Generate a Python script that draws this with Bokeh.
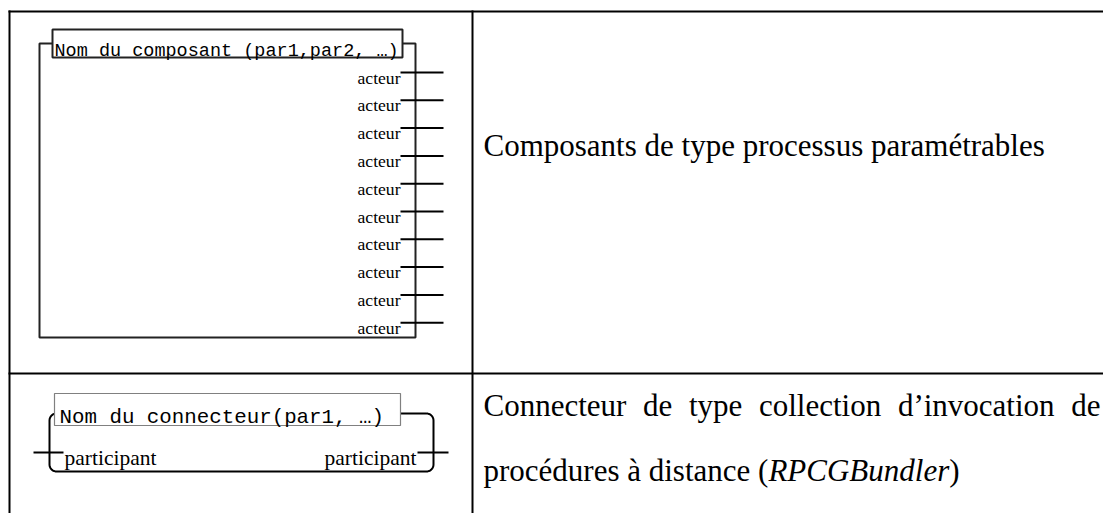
import numpy as np
from bokeh.plotting import figure
from bokeh.models import Range1d
from bokeh.core.properties import value
from bokeh.embed import file_html
from bokeh.resources import INLINE

# ---------------- content ----------------
component_title = "Nom du composant (par1,par2, …)"
actor_labels = ["acteur"] * 10
connector_title = "Nom du connecteur(par1, …)"
participant_left = "participant"
participant_right = "participant"
row1_text = "Composants de type processus paramétrables"
row2_line1_words = ["Connecteur", "de", "type", "collection", "d’invocation", "de"]
row2_line2_parts = ["procédures à distance (", "RPCGBundler", ")"]
row2_line2_styles = ["normal", "italic", "normal"]

# Times / Liberation Serif advance widths (per 1000 em)
REG = {" ": 250, "’": 333, "(": 333, ")": 333, "a": 444, "à": 444, "b": 500, "c": 444,
       "d": 500, "e": 444, "é": 444, "i": 278, "l": 278, "m": 778, "n": 500, "o": 500,
       "p": 500, "r": 333, "s": 389, "t": 278, "u": 500, "v": 500, "y": 500, "C": 667}
ITA = {"R": 611, "P": 611, "C": 667, "G": 722, "B": 611, "u": 500, "n": 500, "d": 500,
       "l": 278, "e": 444, "r": 389}


def text_width(s, size, italic=False):
    table = ITA if italic else REG
    return sum(table.get(ch, 500) for ch in s) * size / 1000.0


W, H = 1103, 513
SERIF = value("Liberation Serif")
MONO = value("Liberation Mono")

p = figure(width=W, height=H, x_range=Range1d(0, W), y_range=Range1d(H, 0),
           output_backend="svg", toolbar_location=None, min_border=0,
           x_axis_type=None, y_axis_type=None)
p.grid.visible = False
p.outline_line_color = None
p.background_fill_color = "white"
p.border_fill_color = "white"

# ---------------- table lines ----------------
col_x = 472
row_y = 373
p.segment(x0=[9, 8, col_x, 8], y0=[10, 11, 10, row_y],
          x1=[9, 1110, col_x, 1110], y1=[520, 11, 520, row_y],
          line_color="black", line_width=2)

# ---------------- component symbol ----------------
bx0, bx1, by1 = 39, 415, 337
tx0, tx1, ty0, ty1 = 52, 402, 29, 57
bracket_y = 43
p.line(x=[tx0, bx0, bx0, bx1, bx1, tx1], y=[bracket_y, bracket_y, by1, by1, bracket_y, bracket_y],
       line_color="#222222", line_width=2)
p.quad(left=[tx0], right=[tx1], top=[ty0], bottom=[ty1], fill_color="white",
       line_color="#222222", line_width=2)
p.text(x=[tx0 + 2], y=[51], text=[component_title], text_font=MONO, text_font_size="18.5px",
       text_baseline="alphabetic", text_align="left", text_color="black")

n_act = len(actor_labels)
act_y = 72 + 27.8 * np.arange(n_act)
p.segment(x0=np.full(n_act, 400), y0=act_y, x1=np.full(n_act, 443), y1=act_y,
          line_color="black", line_width=2)
p.text(x=np.full(n_act, 400), y=act_y + 5, text=actor_labels, text_font=SERIF,
       text_font_size="17.6px", text_baseline="alphabetic", text_align="right",
       text_color="black")

# ---------------- connector symbol ----------------
def rounded_path(x0, x1, y0, y1, r, n=10):
    xs, ys = [], []
    corners = [(x1 - r, y0 + r, -np.pi / 2, 0), (x1 - r, y1 - r, 0, np.pi / 2),
               (x0 + r, y1 - r, np.pi / 2, np.pi), (x0 + r, y0 + r, np.pi, 1.5 * np.pi)]
    for cx, cy, a0, a1 in corners:
        t = np.linspace(a0, a1, n)
        xs.extend(cx + r * np.cos(t))
        ys.extend(cy + r * np.sin(t))
    xs.append(xs[0])
    ys.append(ys[0])
    return xs, ys

rx, ry = rounded_path(49, 433, 413, 471, 7)
p.line(x=rx, y=ry, line_color="black", line_width=2)
p.quad(left=[54], right=[400], top=[393], bottom=[425], fill_color="white",
       line_color="#808080", line_width=1.2)
p.text(x=[59], y=[417], text=[connector_title], text_font=MONO, text_font_size="20.8px",
       text_baseline="alphabetic", text_align="left", text_color="black")
p.segment(x0=[33, 417], y0=[452, 452], x1=[63, 448], y1=[452, 452],
          line_color="black", line_width=2)
p.text(x=[64], y=[457], text=[participant_left], text_font=SERIF, text_font_size="21.5px",
       text_baseline="alphabetic", text_align="left", text_color="black")
p.text(x=[416], y=[457], text=[participant_right], text_font=SERIF, text_font_size="21.5px",
       text_baseline="alphabetic", text_align="right", text_color="black")

# ---------------- right column text ----------------
F = 31
left_x = 483
right_x = 1100
p.text(x=[left_x], y=[145], text=[row1_text], text_font=SERIF, text_font_size=f"{F}px",
       text_baseline="alphabetic", text_align="left", text_color="black")

# justified line
widths = [text_width(w, F) for w in row2_line1_words]
gap = (right_x - left_x - sum(widths)) / (len(widths) - 1)
xs = []
cur = left_x
for w in widths:
    xs.append(cur)
    cur += w + gap
p.text(x=xs, y=[405] * len(xs), text=row2_line1_words, text_font=SERIF,
       text_font_size=f"{F}px", text_baseline="alphabetic", text_align="left",
       text_color="black")

cur = left_x
for part, style in zip(row2_line2_parts, row2_line2_styles):
    p.text(x=[cur], y=[470], text=[part], text_font=SERIF, text_font_size=f"{F}px",
           text_font_style=style, text_baseline="alphabetic", text_align="left",
           text_color="black")
    cur += text_width(part, F, italic=(style == "italic"))

open("out.html", "w").write(file_html(p, INLINE))
